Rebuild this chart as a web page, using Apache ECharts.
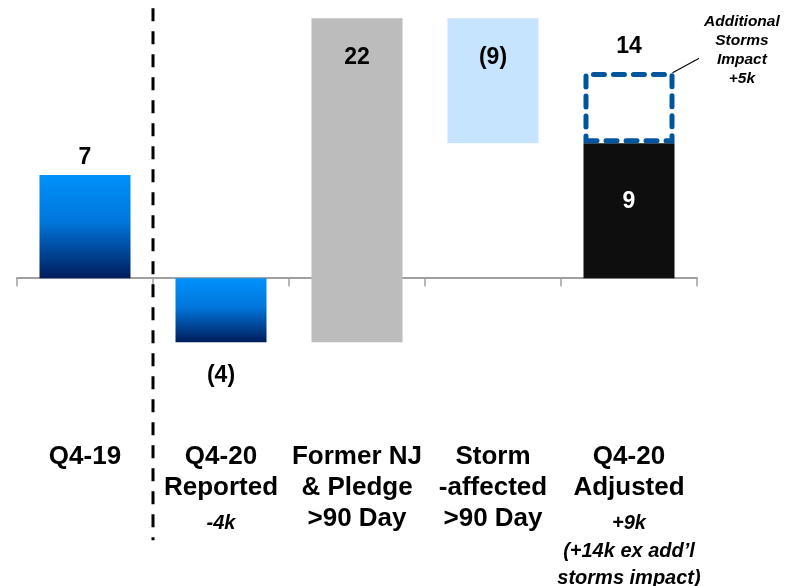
<!DOCTYPE html>
<html>
<head>
<meta charset="utf-8">
<script src="https://cdn.jsdelivr.net/npm/echarts@6/dist/echarts.min.js"></script>
<style>
html, body { margin: 0; padding: 0; background: #fff; }
#main { width: 797px; height: 586px; }
</style>
</head>
<body>
<div id="main"></div>
<script>
// categories and their label lines
var categories = ['Q4-19', 'Q4-20 Reported', 'Former NJ & Pledge >90 Day', 'Storm-affected >90 Day', 'Q4-20 Adjusted'];
var mainLines = [['Q4-19'], ['Q4-20', 'Reported'], ['Former NJ', '& Pledge', '>90 Day'], ['Storm', '-affected', '>90 Day'], ['Q4-20', 'Adjusted']];
var noteLines = [[], ['-4k'], [], [], ['+9k', '(+14k ex add\u2019l', 'storms impact)']];

// bar changes (k)
var barValues = [7, -4.35, 22, -8.5, 9.15];
var extraStorms = [null, null, null, null, 4.85];

// waterfall bases: bars 2 and 3 float from the running total
var baseValues = [0, 0, barValues[1], barValues[1] + barValues[2], 0];

var FONT = 'Liberation Sans, Arial, sans-serif';

function fmt(v) {
	var r = Math.round(Math.abs(v));
	return v < 0 ? '(' + r + ')' : '' + r;
}

function blueGrad() {
	return new echarts.graphic.LinearGradient(0, 0, 0, 1, [
		{ offset: 0, color: '#0091FB' },
		{ offset: 0.45, color: '#0077DC' },
		{ offset: 1, color: '#001C5C' }
	]);
}

var colors = [blueGrad(), blueGrad(), '#BCBCBC', '#C6E4FD', '#0E0E0E'];
var labelPos = [
	{ position: 'top', distance: 6 },
	{ position: 'bottom', distance: 22 },
	{ position: 'insideTop', distance: 28 },
	{ position: 'insideTop', distance: 28 },
	{ position: 'inside', offset: [0, -9], color: '#fff' }
];

var changeData = barValues.map(function (v, i) {
	return {
		value: v,
		itemStyle: { color: colors[i] },
		label: Object.assign({ show: true, formatter: fmt(v) }, labelPos[i])
	};
});

var myChart = echarts.init(document.getElementById('main'));
var option = {
	animation: false,
	textStyle: { fontFamily: FONT },
	grid: { left: 17, width: 680, top: 13, height: 383, containLabel: false, outerBoundsMode: 'none' },
	xAxis: [{
		type: 'category',
		data: categories,
		axisLine: { onZero: true, lineStyle: { color: '#A0A0A0', width: 2 } },
		axisTick: { show: true, length: 8, lineStyle: { color: '#A0A0A0', width: 1.5 } },
		axisLabel: {
			interval: 0,
			margin: 45,
			formatter: function (val, idx) {
				var s = mainLines[idx].map(function (l) { return '{a|' + l + '}'; });
				var n = noteLines[idx];
				if (n.length) {
					s.push('{s| }');
					n.forEach(function (l, j) { s.push((j === 0 ? '{b|' : '{c|') + l + '}'); });
				}
				return s.join('\n');
			},
			rich: {
				a: { fontFamily: FONT, fontWeight: 'bold', fontSize: 26, lineHeight: 31, color: '#000' },
				s: { fontSize: 1, lineHeight: 5 },
				b: { fontFamily: FONT, fontWeight: 'bold', fontStyle: 'italic', fontSize: 20, lineHeight: 30, color: '#000' },
				c: { fontFamily: FONT, fontWeight: 'bold', fontStyle: 'italic', fontSize: 20, lineHeight: 27, color: '#000' }
			}
		},
		splitLine: { show: false }
	}, {
		type: 'value',
		min: -0.5,
		max: 4.5,
		show: false
	}],
	yAxis: {
		type: 'value',
		min: -8,
		max: 18,
		show: false,
		splitLine: { show: false }
	},
	series: [{
		name: 'base',
		type: 'bar',
		stack: 'w',
		stackStrategy: 'all',
		barWidth: 91,
		itemStyle: { color: 'rgba(0,0,0,0)' },
		data: baseValues
	}, {
		name: 'change',
		type: 'bar',
		stack: 'w',
		stackStrategy: 'all',
		barWidth: 91,
		label: { fontFamily: FONT, fontWeight: 'bold', fontSize: 23, color: '#000' },
		data: changeData
	}, {
		name: 'extra storms',
		type: 'bar',
		stack: 'w',
		stackStrategy: 'all',
		barWidth: 91,
		itemStyle: {
			color: 'rgba(0,0,0,0)',
			borderColor: '#00569E',
			borderWidth: 5,
			borderType: [11, 9],
			borderCap: 'round'
		},
		label: {
			show: true,
			position: 'top',
			distance: 14,
			fontFamily: FONT, fontWeight: 'bold', fontSize: 23, color: '#000',
			formatter: function (p) { return fmt(barValues[p.dataIndex] + p.value); }
		},
		data: extraStorms
	}, {
		// separator between prior year and this year
		name: 'divider',
		type: 'line',
		xAxisIndex: 1,
		clip: false,
		symbol: 'none',
		silent: true,
		lineStyle: { color: '#000', width: 3, type: [13, 10] },
		data: [[0.5, 18.33], [0.5, -17.8]]
	}, {
		// leader to the annotation
		name: 'leader',
		type: 'line',
		xAxisIndex: 1,
		clip: false,
		symbol: 'none',
		silent: true,
		lineStyle: { color: '#000', width: 1.2 },
		data: [[4.32, 13.95], [4.54, 15.05]]
	}],
	graphic: [{
		type: 'text',
		left: 704,
		top: 12,
		style: {
			text: 'Additional\nStorms\nImpact\n+5k',
			font: 'italic bold 15.5px ' + FONT,
			textAlign: 'center',
			lineHeight: 19,
			fill: '#000'
		}
	}]
};
myChart.setOption(option);
</script>
</body>
</html>
